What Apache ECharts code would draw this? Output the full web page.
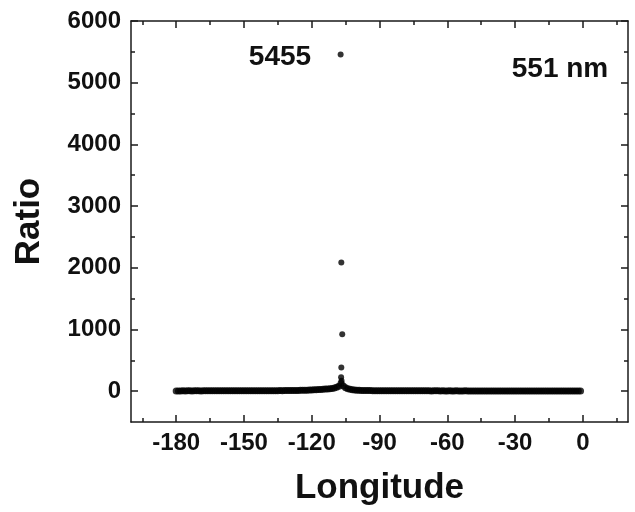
<!DOCTYPE html>
<html><head><meta charset="utf-8">
<script src="https://cdn.jsdelivr.net/npm/echarts@6/dist/echarts.min.js"></script>
<style>html,body{margin:0;padding:0;background:#fff}#c{width:635px;height:512px}</style>
</head><body><div id="c"></div>
<script>
const longitude = [
-180,-179,-178,-177,-176,-175,-174,-173,-172,-171,
-170,-169,-168,-167,-166,-165,-164,-163,-162,-161,
-160,-159,-158,-157,-156,-155,-154,-153,-152,-151,
-150,-149,-148,-147,-146,-145,-144,-143,-142,-141,
-140,-139,-138,-137,-136,-135,-134,-133,-132,-131,
-130,-129,-128,-127,-126,-125,-124,-123,-122,-121,
-120,-119,-118,-117,-116,-115,-114,-113,-112,-111,
-110,-109,-108,-107,-106,-105,-104,-103,-102,-101,
-100,-99,-98,-97,-96,-95,-94,-93,-92,-91,
-90,-89,-88,-87,-86,-85,-84,-83,-82,-81,
-80,-79,-78,-77,-76,-75,-74,-73,-72,-71,
-70,-69,-68,-67,-66,-65,-64,-63,-62,-61,
-60,-59,-58,-57,-56,-55,-54,-53,-52,-51,
-50,-49,-48,-47,-46,-45,-44,-43,-42,-41,
-40,-39,-38,-37,-36,-35,-34,-33,-32,-31,
-30,-29,-28,-27,-26,-25,-24,-23,-22,-21,
-20,-19,-18,-17,-16,-15,-14,-13,-12,-11,
-10,-9,-8,-7,-6,-5,-4,-3,-2,-1
];
const ratio = [
3,4,4,5,4,5,5,4,5,5,
5,4,5,5,6,5,5,6,5,5,
6,5,6,6,5,6,6,7,6,6,
6,7,6,7,7,6,7,7,8,7,
7,8,8,7,8,8,9,8,9,9,
10,10,11,11,12,13,14,15,16,18,
20,21,23,25,27,30,33,36,40,45,
52,62,78,130,85,55,40,30,24,19,
16,14,12,11,10,9,9,8,8,8,
7,7,7,7,6,6,6,6,6,6,
6,5,6,5,5,6,5,5,5,5,
5,5,5,4,5,5,5,4,5,4,
4,5,4,4,5,4,4,4,5,4,
4,4,4,4,3,4,4,4,3,4,
4,3,4,3,4,3,3,4,3,3,
3,3,4,3,3,3,3,3,3,3,
3,3,3,3,2,3,3,3,3,2,
3,2,3,2,3,3,2,3,2,3
];
const spikeLongitude = [-107.2, -106.9, -106.5, -106.9, -107.0, -106.8];
const spikeRatio = [5455, 2084, 922, 383, 225, 170];

const xTickValues = [-180, -150, -120, -90, -60, -30, 0];
const xMinorTickValues = [-195, -165, -135, -105, -75, -45, -15, 15];
const yTickValues = [0, 1000, 2000, 3000, 4000, 5000, 6000];
const yMinorTickValues = [500, 1500, 2500, 3500, 4500, 5500];
const xTitle = 'Longitude';
const yTitle = 'Ratio';
const peakLabel = '5455';
const wavelengthLabel = '551 nm';

const FONT = '"Liberation Sans", Arial, sans-serif';
const lineStyle = { color: '#1a1a1a', width: 1.5 };

function axis(kind, pos, ticks, len, withLine, labels, extra) {
  const range = kind === 'x' ? { min: -200, max: 20 } : { min: -500, max: 6000 };
  return Object.assign({
    type: 'value', position: pos, min: range.min, max: range.max,
    axisLine: { show: withLine, onZero: false, lineStyle: lineStyle },
    axisTick: { show: true, inside: true, length: len, customValues: ticks, lineStyle: lineStyle },
    axisLabel: labels ? {
      show: true, customValues: ticks, fontSize: 24, fontWeight: 'bold', color: '#111',
      fontFamily: FONT, margin: kind === 'x' ? 9 : 10,
      formatter: function (v) { return String(v); }
    } : { show: false },
    splitLine: { show: false }
  }, extra || {});
}

const chart = echarts.init(document.getElementById('c'));
chart.setOption({
  backgroundColor: '#fff',
  animation: false,
  grid: { left: 131, right: 7, top: 21, bottom: 90, containLabel: false },
  xAxis: [
    axis('x', 'bottom', xTickValues, 7, true, true, {
      name: xTitle, nameLocation: 'middle', nameGap: 49,
      nameTextStyle: { fontSize: 35, fontWeight: 'bold', color: '#111', fontFamily: FONT }
    }),
    axis('x', 'bottom', xMinorTickValues, 4, false, false),
    axis('x', 'top', xTickValues, 7, true, false),
    axis('x', 'top', xMinorTickValues, 4, false, false)
  ],
  yAxis: [
    axis('y', 'left', yTickValues, 7, true, true, {
      name: yTitle, nameLocation: 'middle', nameGap: 84,
      nameTextStyle: { fontSize: 35, fontWeight: 'bold', color: '#111', fontFamily: FONT }
    }),
    axis('y', 'left', yMinorTickValues, 4, false, false),
    axis('y', 'right', yTickValues, 7, true, false),
    axis('y', 'right', yMinorTickValues, 4, false, false)
  ],
  series: [
    {
      type: 'scatter', xAxisIndex: 0, yAxisIndex: 0, symbolSize: 7, silent: true,
      itemStyle: { color: '#000' },
      data: longitude.map((x, i) => [x, ratio[i]])
    },
    {
      type: 'scatter', xAxisIndex: 0, yAxisIndex: 0, symbolSize: 6, silent: true,
      itemStyle: { color: '#000' },
      data: spikeLongitude.map((x, i) => [x, spikeRatio[i]])
    }
  ],
  graphic: [
    { type: 'text', x: 280, y: 57, style: { text: peakLabel, fill: '#111', font: 'bold 28px ' + FONT, align: 'center', verticalAlign: 'middle' } },
    { type: 'text', x: 560, y: 69, style: { text: wavelengthLabel, fill: '#111', font: 'bold 28px ' + FONT, align: 'center', verticalAlign: 'middle' } }
  ]
});
</script>
</body></html>
